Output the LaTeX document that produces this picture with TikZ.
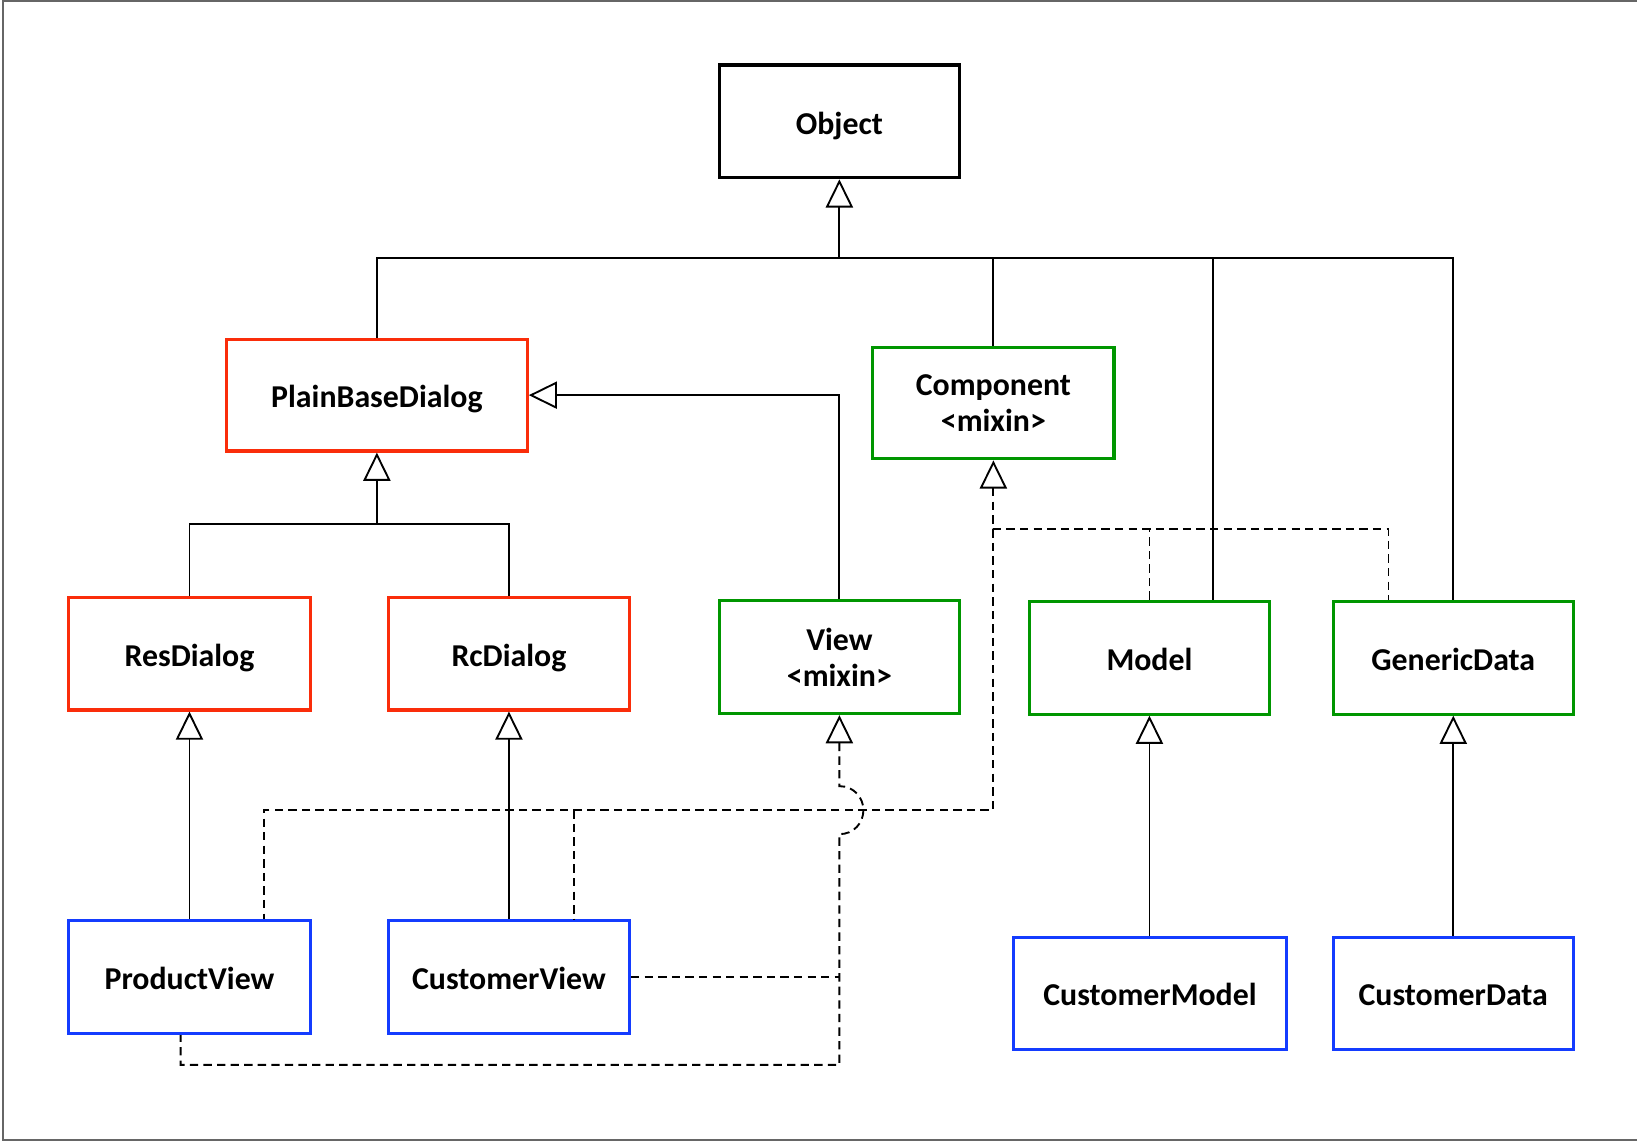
\documentclass[tikz,border=0pt]{standalone}
\usepackage{fontspec}
\setmainfont{Carlito}
\usetikzlibrary{arrows.meta}
\definecolor{cred}{RGB}{250,45,10}
\definecolor{cgreen}{RGB}{0,150,0}
\definecolor{cblue}{RGB}{20,60,255}
\tikzset{
  box/.style={draw, line width=3pt, rectangle, minimum width=231pt, minimum height=108pt,
    inner sep=0pt, align=center, font=\fontsize{30.5}{35}\selectfont\bfseries, fill=white},
  oneline/.style={text height=24pt, text depth=0pt},
  redbox/.style={box, draw=cred},
  greenbox/.style={box, draw=cgreen},
  bluebox/.style={box, draw=cblue},
  conn/.style={line width=1.8pt, draw=black},
  dconn/.style={conn, dash pattern=on 8pt off 5pt},
  inh/.style={{Triangle[length=27pt, width=26pt, fill=white]}-},
}
\begin{document}
\begin{tikzpicture}[x=1pt, y=-1pt]
\useasboundingbox (0,0) rectangle (1568,1093);
\draw[line width=2pt, black!60] (1580,1) -- (3,1) -- (3,1092) -- (1580,1092);

\node[box, oneline, text height=26pt, line width=3.5pt, minimum width=230pt] (obj) at (804,116) {Object};
\node[redbox, oneline, minimum width=288pt, minimum height=107pt] (pbd) at (361,378.5) {PlainBaseDialog};
\node[greenbox, minimum height=107pt] (comp) at (951.5,386) {Component\\<mixin>};
\node[redbox, oneline] (rd) at (181.5,626) {ResDialog};
\node[redbox, oneline] (rcd) at (487.5,626) {RcDialog};
\node[greenbox, minimum width=230pt] (view) at (804,629.5) {View\\<mixin>};
\node[greenbox, oneline, minimum width=230pt] (model) at (1101,630) {Model};
\node[greenbox, oneline, minimum width=230pt] (gd) at (1392,630) {GenericData};
\node[bluebox, oneline] (pv) at (181.5,936) {ProductView};
\node[bluebox, oneline] (cv) at (487.5,936) {CustomerView};
\node[bluebox, oneline, minimum width=261pt, minimum height=107pt] (cm) at (1101.5,951.5) {CustomerModel};
\node[bluebox, oneline, minimum width=230pt, minimum height=107pt] (cd) at (1392,951.5) {CustomerData};

% inheritance from Object
\coordinate (oj) at (804,247);
\draw[conn, inh] (obj.south) -- (oj);
\draw[conn] (pbd.north) |- (oj) -| (gd.north);
\draw[conn] (comp.north) -- (comp.north |- oj);
\draw[conn] ([xshift=61pt]model.north) -- ([xshift=61pt]model.north |- oj);

% PlainBaseDialog
\coordinate (pj) at (361,502);
\draw[conn, inh] (pbd.south) -- (pj);
\draw[conn] (rd.north) |- (pj) -| (rcd.north);
\draw[conn, inh] (pbd.east) -| (view.north);

% direct inheritance
\draw[conn, inh] (rd.south) -- (pv.north);
\draw[conn, inh] (rcd.south) -- (cv.north);
\draw[conn, inh] (model.south) -- (model.south |- cm.north);
\draw[conn, inh] (gd.south) -- (cd.north);

% Component realisations
\coordinate (cj) at (951,507);
\draw[dconn, inh] (comp.south) -- (comp.south |- cj) -| ([xshift=-62pt]gd.north);
\draw[dconn] (model.north) -- (model.north |- cj);
\draw[dconn] (cj) -- (951,776) -| ([xshift=71.5pt]pv.north);
\draw[dconn] (550,776) -- ([xshift=62.5pt]cv.north);

% View realisations
\draw[dconn, inh] (view.south) -- (804,753)
  .. controls (818,753) and (827,764) .. (827,776)
  .. controls (827,788) and (818,799) .. (804,799)
  -- (804,1020) -| ([xshift=-8.5pt]pv.south);
\draw[dconn] (cv.east) -- (cv.east -| view.south);
\end{tikzpicture}
\end{document}
